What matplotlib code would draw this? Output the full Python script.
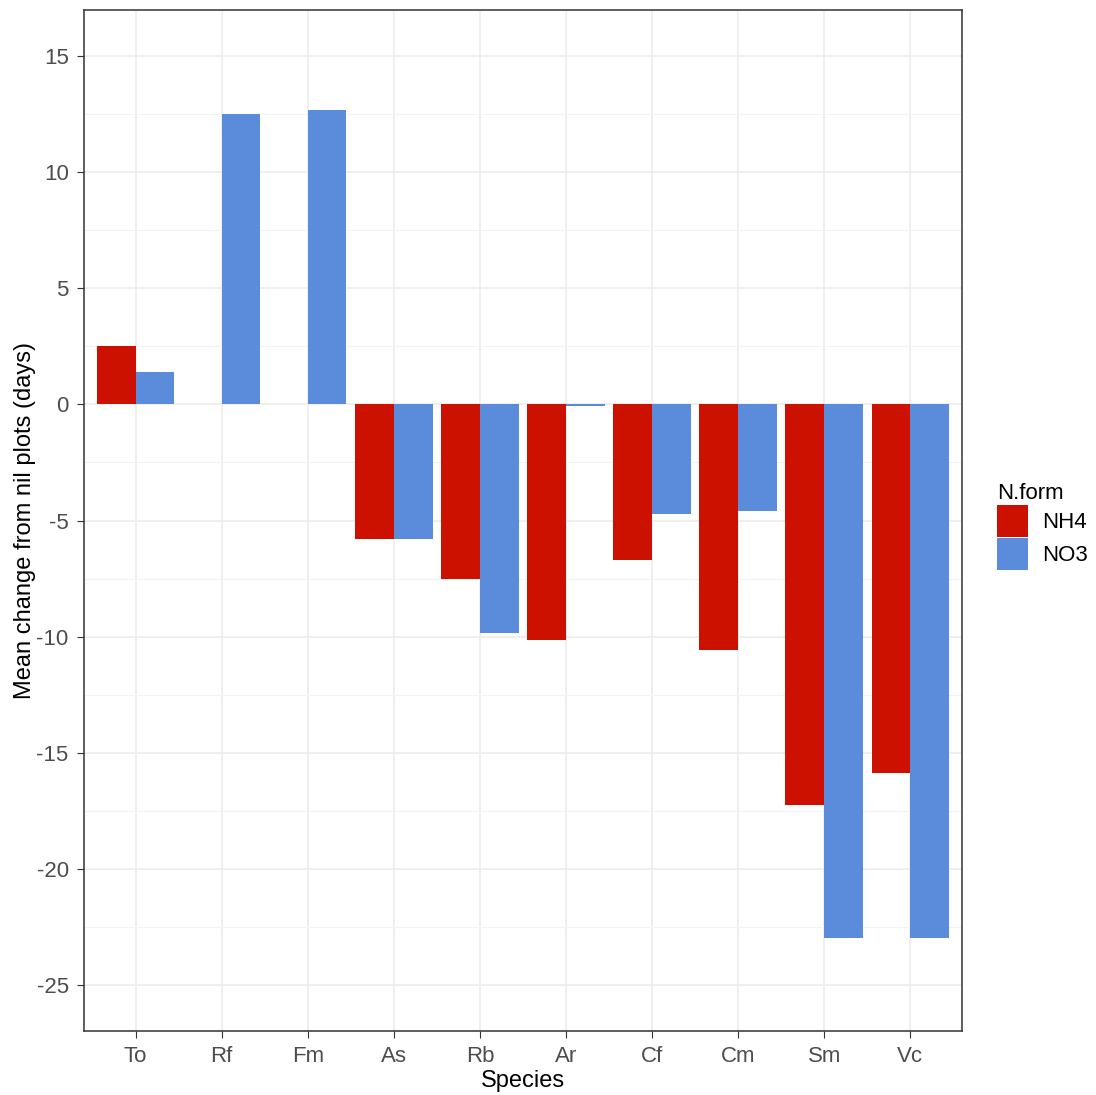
import numpy as np
import matplotlib.pyplot as plt

species = ['To', 'Rf', 'Fm', 'As', 'Rb', 'Ar', 'Cf', 'Cm', 'Sm', 'Vc']
nh4 = [2.5, 0.0, 0.0, -5.78, -7.5, -10.17, -6.72, -10.6, -17.28, -15.9]
no3 = [1.38, 12.5, 12.7, -5.78, -9.83, -0.05, -4.74, -4.61, -23.0, -22.97]

plt.rcParams['font.family'] = ['Liberation Sans', 'DejaVu Sans']
plt.rcParams['axes.unicode_minus'] = False

fig = plt.figure(figsize=(10.96, 10.95), dpi=100)
ax = fig.add_axes([0.0766, 0.0584, 0.8011, 0.9325])

x = np.arange(1, len(species) + 1)
w = 0.45
ax.bar(x - w / 2, nh4, width=w, color='#CC1100', label='NH4', zorder=3)
ax.bar(x + w / 2, no3, width=w, color='#5B8BDB', label='NO3', zorder=3)

ax.set_xlim(0.4, 10.6)
ax.set_ylim(-27, 17)
ax.set_xticks(x)
ax.set_xticklabels(species)
ax.set_yticks(np.arange(-25, 16, 5))
ax.set_yticks(np.arange(-22.5, 16, 5), minor=True)
ax.grid(True, which='major', color='#EBEBEB', lw=1.1, zorder=0)
ax.grid(True, which='minor', axis='y', color='#F3F3F3', lw=0.8, zorder=0)
ax.set_axisbelow(True)

for s in ax.spines.values():
    s.set_color('#333333')
    s.set_linewidth(1.1)
ax.tick_params(axis='both', which='major', colors='#333333', labelcolor='#4D4D4D',
               labelsize=16, length=5, pad=6)
ax.tick_params(axis='both', which='minor', length=0)

ax.set_xlabel('Species', fontsize=17, labelpad=2)
ax.set_ylabel('Mean change from nil plots (days)', fontsize=17, labelpad=0)

leg = ax.legend(title='N.form', loc='center left', bbox_to_anchor=(1.017, 0.494),
                frameon=False, fontsize=16, title_fontsize=16,
                handlelength=1.4, handleheight=1.85, handletextpad=0.65,
                labelspacing=0.05)
leg._legend_box.align = 'left'

fig.savefig('out.png', dpi=100)
